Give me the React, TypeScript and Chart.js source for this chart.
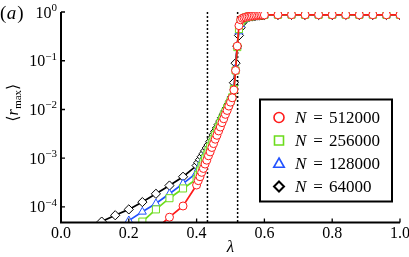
import React, { useEffect, useRef } from 'react';
import { Chart, registerables } from 'chart.js';

Chart.register(...registerables);

// ---------- data (log10 of <r_max>) ----------
const seriesSizes = ['512000', '256000', '128000', '64000'];
const seriesColors = ['#ff1a1a', '#6cdc1c', '#2252ff', '#000000'];
const seriesMarkers = ['circle', 'rect', 'triangle', 'rectRot'];
const markerRadii = [4, 5, 4.6, 4.6];

const lambdaTail = [0.08, 0.12, 0.16, 0.2, 0.24, 0.28, 0.32, 0.36];
const lambdaDense = [
  0.4, 0.405, 0.41, 0.415, 0.42, 0.425, 0.43, 0.435,
  0.44, 0.445, 0.45, 0.455, 0.46, 0.465, 0.47, 0.475,
  0.48, 0.485, 0.49, 0.495, 0.5, 0.505, 0.51, 0.515,
  0.52, 0.525, 0.53, 0.535, 0.54, 0.545, 0.55, 0.555,
  0.56, 0.565, 0.57, 0.575, 0.58, 0.585, 0.59, 0.595,
  0.6,
];
const lambdaHigh = [0.64, 0.68, 0.72, 0.76, 0.8, 0.84, 0.88, 0.92, 0.96, 1.0];

const tail512000 = [null, null, null, null, null, -4.45, -4.21, -3.98];
const dense512000 = [
  -3.55, -3.46, -3.38, -3.29, -3.21, -3.12, -3.04, -2.95,
  -2.87, -2.78, -2.7, -2.61, -2.53, -2.44, -2.36, -2.27,
  -2.19, -2.1, -2.02, -1.93, -1.85, -1.76, -1.6, -1.2,
  -0.7, -0.28, -0.16, -0.13, -0.115, -0.105, -0.095, -0.09,
  -0.085, -0.08, -0.076, -0.072, -0.069, -0.066, -0.064, -0.062,
  -0.06,
];
const high512000 = [-0.058, -0.056, -0.058, -0.057, -0.058, -0.056, -0.058, -0.057, -0.058, -0.058];

const tail256000 = [null, null, null, -4.6, -4.3, -4.05, -3.82, -3.62];
const dense256000 = [
  -3.43, -3.34, -3.25, -3.16, -3.08, -3.0, -2.92, -2.84,
  -2.76, -2.68, -2.6, -2.52, -2.44, -2.36, -2.28, -2.2,
  -2.12, -2.05, -1.97, -1.9, -1.83, -1.75, -1.58, -1.2,
  -0.72, -0.35, -0.2, -0.15, -0.125, -0.11, -0.1, -0.093,
  -0.087, -0.082, -0.078, -0.074, -0.07, -0.067, -0.065, -0.063,
  -0.061,
];
const high256000 = [-0.059, -0.057, -0.059, -0.058, -0.059, -0.057, -0.059, -0.058, -0.059, -0.059];

const tail128000 = [null, null, -4.45, -4.28, -4.1, -3.93, -3.73, -3.52];
const dense128000 = [
  -3.3, -3.22, -3.14, -3.06, -2.99, -2.92, -2.85, -2.78,
  -2.71, -2.63, -2.56, -2.49, -2.41, -2.34, -2.26, -2.19,
  -2.11, -2.04, -1.96, -1.89, -1.82, -1.74, -1.55, -1.15,
  -0.7, -0.4, -0.25, -0.17, -0.135, -0.115, -0.103, -0.095,
  -0.088, -0.083, -0.079, -0.075, -0.071, -0.068, -0.066, -0.064,
  -0.062,
];
const high128000 = [-0.06, -0.058, -0.06, -0.059, -0.06, -0.058, -0.06, -0.059, -0.06, -0.06];

const tail64000 = [-4.55, -4.3, -4.17, -4.05, -3.9, -3.73, -3.56, -3.38];
const dense64000 = [
  -3.15, -3.09, -3.03, -2.97, -2.91, -2.85, -2.79, -2.73,
  -2.66, -2.59, -2.52, -2.45, -2.38, -2.31, -2.24, -2.17,
  -2.1, -2.03, -1.96, -1.89, -1.82, -1.74, -1.45, -1.05,
  -0.7, -0.48, -0.32, -0.22, -0.16, -0.13, -0.11, -0.1,
  -0.092, -0.086, -0.081, -0.077, -0.073, -0.07, -0.067, -0.065,
  -0.063,
];
const high64000 = [-0.061, -0.059, -0.061, -0.06, -0.061, -0.059, -0.061, -0.06, -0.061, -0.061];

const seriesLogs = [
  [tail512000, dense512000, high512000],
  [tail256000, dense256000, high256000],
  [tail128000, dense128000, high128000],
  [tail64000, dense64000, high64000],
];

const criticalLambdas = [0.432, 0.521];
const xTickValues = [0, 0.2, 0.4, 0.6, 0.8, 1.0];
const xTickLabels = ['0.0', '0.2', '0.4', '0.6', '0.8', '1.0'];
const yTickExponents = [0, -1, -2, -3, -4];
const yMin = 4.8e-5;
const yMax = 1;

const SERIF = '"Liberation Serif", "DejaVu Serif", serif';

function buildPoints(logs: (number | null)[][]) {
  const xs = [lambdaTail, lambdaDense, lambdaHigh];
  const pts: { x: number; y: number }[] = [];
  xs.forEach((arr, k) => {
    arr.forEach((x, i) => {
      const v = logs[k][i];
      if (v !== null && v !== undefined) pts.push({ x, y: Math.pow(10, v) });
    });
  });
  return pts;
}

function drawMarker(ctx: CanvasRenderingContext2D, style: string, x: number, y: number, r: number) {
  ctx.beginPath();
  if (style === 'circle') ctx.arc(x, y, r, 0, Math.PI * 2);
  else if (style === 'rect') ctx.rect(x - r, y - r, 2 * r, 2 * r);
  else if (style === 'triangle') {
    ctx.moveTo(x, y - r * 1.1);
    ctx.lineTo(x + r * 1.05, y + r * 0.75);
    ctx.lineTo(x - r * 1.05, y + r * 0.75);
    ctx.closePath();
  } else {
    ctx.moveTo(x, y - r);
    ctx.lineTo(x + r, y);
    ctx.lineTo(x, y + r);
    ctx.lineTo(x - r, y);
    ctx.closePath();
  }
  ctx.fill();
  ctx.stroke();
}

const decorPlugin = {
  id: 'decor',
  beforeDatasetsDraw(chart: any) {
    const { ctx, chartArea, scales } = chart;
    ctx.save();
    ctx.strokeStyle = '#000';
    ctx.lineWidth = 1.5;
    ctx.setLineDash([2, 2]);
    for (const v of criticalLambdas) {
      const px = scales.x.getPixelForValue(v);
      ctx.beginPath();
      ctx.moveTo(px, chartArea.top);
      ctx.lineTo(px, chartArea.bottom);
      ctx.stroke();
    }
    ctx.restore();
  },
  afterDraw(chart: any) {
    const { ctx, chartArea, scales } = chart;
    const { left, right, top, bottom } = chartArea;
    ctx.save();
    // spines
    ctx.strokeStyle = '#000';
    ctx.lineWidth = 2;
    ctx.beginPath();
    ctx.moveTo(left, top);
    ctx.lineTo(left, bottom + 1);
    ctx.moveTo(left - 1, bottom);
    ctx.lineTo(right, bottom);
    ctx.stroke();
    // ticks
    ctx.lineWidth = 1.3;
    ctx.beginPath();
    xTickValues.forEach((v) => {
      const px = scales.x.getPixelForValue(v);
      ctx.moveTo(px, bottom);
      ctx.lineTo(px, bottom - 4);
    });
    yTickExponents.forEach((e) => {
      const py = scales.y.getPixelForValue(Math.pow(10, e));
      ctx.moveTo(left, py);
      ctx.lineTo(left + 4, py);
    });
    ctx.stroke();
    // x tick labels
    ctx.fillStyle = '#000';
    ctx.font = `16px ${SERIF}`;
    ctx.textAlign = 'center';
    ctx.textBaseline = 'alphabetic';
    xTickValues.forEach((v, i) => {
      const px = scales.x.getPixelForValue(v);
      ctx.fillText(xTickLabels[i], px, bottom + 15);
    });
    // y tick labels 10^e
    yTickExponents.forEach((e) => {
      const py = scales.y.getPixelForValue(Math.pow(10, e));
      const sup = e === 0 ? '0' : '\u2212' + String(-e);
      ctx.font = `11px ${SERIF}`;
      const wSup = ctx.measureText(sup).width;
      ctx.font = `16px ${SERIF}`;
      const wBase = ctx.measureText('10').width;
      const xr = left - 4;
      ctx.textAlign = 'left';
      ctx.fillText('10', xr - wSup - wBase, py + 5.5);
      ctx.font = `11px ${SERIF}`;
      ctx.fillText(sup, xr - wSup, py - 1);
    });
    // x label
    ctx.font = `italic 17px ${SERIF}`;
    ctx.textAlign = 'center';
    ctx.fillText('\u03bb', (left + right) / 2, bottom + 29);
    // y label  <r_max>
    ctx.save();
    ctx.translate(18, 103);
    ctx.rotate(-Math.PI / 2);
    const parts = [
      { t: '\u27e8', f: `16px ${SERIF}`, dy: 0 },
      { t: 'r', f: `italic 16px ${SERIF}`, dy: 0 },
      { t: 'max', f: `11px ${SERIF}`, dy: 3 },
      { t: '\u27e9', f: `16px ${SERIF}`, dy: 0 },
    ];
    let total = 0;
    parts.forEach((p) => { ctx.font = p.f; total += ctx.measureText(p.t).width; });
    let cx = -total / 2;
    ctx.textAlign = 'left';
    parts.forEach((p) => {
      ctx.font = p.f;
      ctx.fillText(p.t, cx, p.dy);
      cx += ctx.measureText(p.t).width + (p.t === 'r' ? 0.5 : 0);
    });
    ctx.restore();
    // panel tag (a)
    ctx.textAlign = 'left';
    ctx.font = `19px ${SERIF}`;
    ctx.fillText('(', 0, 19);
    let ax = ctx.measureText('(').width + 0.5;
    ctx.font = `italic 19px ${SERIF}`;
    ctx.fillText('a', ax, 19);
    ax += ctx.measureText('a').width + 1;
    ctx.font = `19px ${SERIF}`;
    ctx.fillText(')', ax, 19);

    // legend
    const bx = 260, by = 99.5, bw = 132, bh = 102;
    ctx.fillStyle = '#fff';
    ctx.fillRect(bx, by, bw, bh);
    ctx.strokeStyle = '#000';
    ctx.lineWidth = 2;
    ctx.strokeRect(bx, by, bw, bh);
    const rowY = [117.5, 140.5, 163.5, 186.5];
    const legR = [5, 4.5, 5, 5];
    seriesSizes.forEach((n, i) => {
      const y = rowY[i];
      ctx.fillStyle = '#fff';
      ctx.strokeStyle = seriesColors[i];
      ctx.lineWidth = i === 3 ? 2 : 1.6;
      drawMarker(ctx, seriesMarkers[i], 279, y, legR[i]);
      ctx.fillStyle = '#000';
      ctx.font = `italic 17px ${SERIF}`;
      ctx.textAlign = 'left';
      ctx.fillText('N', 295, y + 5.5);
      ctx.font = `17px ${SERIF}`;
      ctx.textAlign = 'center';
      ctx.fillText('=', 318, y + 5.5);
      ctx.textAlign = 'left';
      ctx.fillText(n, 329, y + 5.5);
    });
    ctx.restore();
  },
};

export default function App() {
  const canvasRef = useRef<HTMLCanvasElement | null>(null);

  useEffect(() => {
    if (!canvasRef.current) return;
    const datasets = seriesSizes.map((n, i) => ({
      label: 'N = ' + n,
      data: buildPoints(seriesLogs[i]),
      borderColor: seriesColors[i],
      backgroundColor: '#ffffff',
      borderWidth: 1.7,
      pointStyle: seriesMarkers[i] as any,
      pointRadius: markerRadii[i],
      pointBorderWidth: 1,
      pointBorderColor: seriesColors[i],
      pointBackgroundColor: '#ffffff',
      tension: 0,
      fill: false,
    }));
    const chart = new Chart(canvasRef.current, {
      type: 'line',
      data: { datasets },
      options: {
        responsive: false,
        animation: false,
        devicePixelRatio: 1,
        layout: { padding: { left: 61, right: 9, top: 12, bottom: 34.5 } },
        plugins: {
          legend: { display: false },
          tooltip: { enabled: false },
        },
        scales: {
          x: { type: 'linear', min: 0, max: 1, display: false },
          y: { type: 'logarithmic', min: yMin, max: yMax, display: false },
        },
      },
      plugins: [decorPlugin],
    });
    return () => chart.destroy();
  }, []);

  return (
    <div style={{ position: 'absolute', left: 0, top: 0, width: 409, height: 257, background: '#fff' }}>
      <canvas ref={canvasRef} width={409} height={257} style={{ width: 409, height: 257, display: 'block' }} />
    </div>
  );
}
